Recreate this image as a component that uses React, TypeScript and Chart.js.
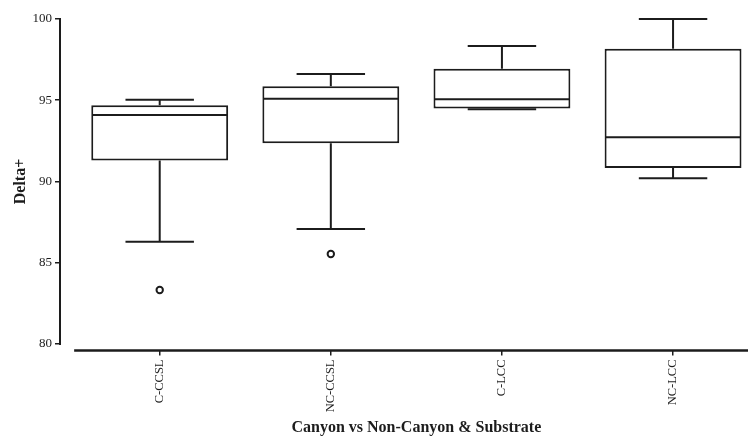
import { useEffect, useRef } from 'react';
import { Chart, registerables } from 'chart.js';

Chart.register(...registerables);

const categories = ['C-CCSL', 'NC-CCSL', 'C-LCC', 'NC-LCC'];
const lowerWhisker = [86.3, 87.08, 94.44, 90.2];
const q1 = [91.3, 92.35, 94.5, 90.83];
const median = [94.09, 95.1, 95.06, 92.72];
const q3 = [94.69, 95.86, 96.94, 98.17];
const upperWhisker = [95.03, 96.62, 98.34, 100.0];
const outlierGroup = [0, 1];
const outlierValue = [83.32, 85.54];
const yTicks = [80, 85, 90, 95, 100];
const xTitle = 'Canyon vs Non-Canyon & Substrate';
const yTitle = 'Delta+';

const FONT = "'Liberation Serif', 'Times New Roman', serif";
const INK = '#1c1c1c';

const boxPlugin = {
  id: 'boxParts',
  afterDatasetsDraw(chart: any) {
    const { ctx, chartArea } = chart;
    const x = chart.scales.x;
    const y = chart.scales.y;
    const meta = chart.getDatasetMeta(0);
    ctx.save();
    ctx.strokeStyle = INK;
    ctx.lineWidth = 2;
    ctx.lineCap = 'butt';
    ctx.beginPath();
    categories.forEach((_, i) => {
      const bar = meta.data[i];
      const cx = x.getPixelForValue(i);
      const half = bar.width / 2;
      const cap = half / 2;
      const pMed = y.getPixelForValue(median[i]);
      const pQ1 = y.getPixelForValue(q1[i]);
      const pQ3 = y.getPixelForValue(q3[i]);
      const pLo = y.getPixelForValue(lowerWhisker[i]);
      const pHi = y.getPixelForValue(upperWhisker[i]);
      ctx.moveTo(cx - half + 1, pMed);
      ctx.lineTo(cx + half - 1, pMed);
      ctx.moveTo(cx, pQ3);
      ctx.lineTo(cx, pHi);
      ctx.moveTo(cx - cap, pHi);
      ctx.lineTo(cx + cap, pHi);
      ctx.moveTo(cx, pQ1);
      ctx.lineTo(cx, pLo);
      ctx.moveTo(cx - cap, pLo);
      ctx.lineTo(cx + cap, pLo);
    });
    ctx.stroke();

    ctx.beginPath();
    ctx.moveTo(chartArea.left, y.getPixelForValue(yTicks[yTicks.length - 1]) - 1);
    ctx.lineTo(chartArea.left, y.getPixelForValue(yTicks[0]) + 1);
    ctx.stroke();
    ctx.beginPath();
    ctx.lineWidth = 2.5;
    ctx.moveTo(x.getPixelForValue(-0.5), chartArea.bottom);
    ctx.lineTo(chart.width, chartArea.bottom);
    ctx.stroke();

    ctx.fillStyle = INK;
    ctx.font = `bold 16px ${FONT}`;
    ctx.textAlign = 'center';
    ctx.textBaseline = 'middle';
    const xc = (x.getPixelForValue(-0.5) + x.getPixelForValue(categories.length - 0.5)) / 2;
    ctx.fillText(xTitle, xc, 428);
    const yc = (y.getPixelForValue(yTicks[0]) + y.getPixelForValue(yTicks[yTicks.length - 1])) / 2;
    ctx.translate(21, yc);
    ctx.rotate(-Math.PI / 2);
    ctx.fillText(yTitle, 0, 0);
    ctx.restore();
  },
};

export default function App() {
  const ref = useRef<HTMLCanvasElement | null>(null);
  useEffect(() => {
    if (!ref.current) return;
    const chart = new Chart(ref.current, {
      type: 'bar',
      data: {
        datasets: [
          {
            type: 'bar',
            data: categories.map((_, i) => ({ x: i, y: [q1[i], q3[i]] })) as any,
            backgroundColor: '#ffffff',
            borderColor: INK,
            borderWidth: 2,
            borderSkipped: false,
            barPercentage: 0.8,
            categoryPercentage: 1,
            order: 2,
          } as any,
          {
            type: 'scatter',
            data: outlierGroup.map((g, i) => ({ x: g, y: outlierValue[i] })),
            backgroundColor: '#ffffff',
            borderColor: INK,
            borderWidth: 2,
            pointRadius: 3.2,
            pointStyle: 'circle',
            order: 1,
          } as any,
        ],
      },
      options: {
        responsive: false,
        animation: false,
        devicePixelRatio: 1,
        layout: { autoPadding: false, padding: { top: 19, left: 0, right: 0, bottom: 0 } },
        plugins: { legend: { display: false }, tooltip: { enabled: false }, title: { display: false } },
        scales: {
          x: {
            type: 'linear',
            offset: false,
            min: -0.5827,
            max: 3.438,
            afterBuildTicks: (s: any) => {
              s.ticks = categories.map((_, i) => ({ value: i }));
            },
            afterFit: (s: any) => {
              s.height = 85.5;
              s.paddingLeft = 0;
              s.paddingRight = 0;
            },
            ticks: {
              callback: (v: any) => categories[v as number] ?? '',
              minRotation: 90,
              maxRotation: 90,
              autoSkip: false,
              color: INK,
              padding: 4,
              font: { family: FONT, size: 12.5 },
            },
            grid: { offset: false, drawOnChartArea: false, drawTicks: true, tickLength: 5, color: INK, lineWidth: 1.5 },
            border: { display: false },
          },
          y: {
            type: 'linear',
            min: 79.6,
            max: 100,
            afterBuildTicks: (s: any) => {
              s.ticks = yTicks.map((v) => ({ value: v }));
            },
            afterFit: (s: any) => {
              s.width = 60;
              s.paddingTop = 0;
              s.paddingBottom = 0;
            },
            ticks: {
              color: INK,
              padding: 3,
              font: { family: FONT, size: 13 },
              callback: (v: any) => String(v),
            },
            grid: { drawOnChartArea: false, drawTicks: true, tickLength: 5, color: INK, lineWidth: 1.5 },
            border: { display: false },
          },
        },
      },
      plugins: [boxPlugin],
    });
    return () => chart.destroy();
  }, []);
  return (
    <div style={{ position: 'fixed', left: 0, top: 0, width: 748, height: 436, background: '#fff' }}>
      <canvas ref={ref} width={748} height={436} style={{ display: 'block' }} />
    </div>
  );
}
